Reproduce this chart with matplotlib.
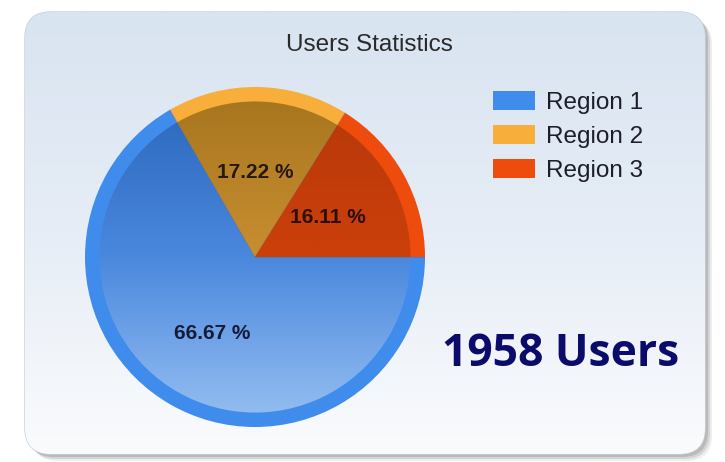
import numpy as np
import matplotlib.pyplot as plt
from matplotlib.patches import FancyBboxPatch, Wedge
from matplotlib.colors import LinearSegmentedColormap

# chart data
regions = ['Region 1', 'Region 2', 'Region 3']
shares = [66.67, 17.22, 16.11]
total_users = 1958
title = 'Users Statistics'

outer_colors = ['#3f8cec', '#f8ae3a', '#ee4c0c']
inner_stops = [['#2c68bc', '#4a88de', '#92bcf0'],
               ['#a8761f', '#c98e30', '#e8a442'],
               ['#b8380a', '#cc400a', '#dc470c']]
label_colors = ['#141c3a', '#241a10', '#2a1006']

W, H = 725, 462
fig = plt.figure(figsize=(W / 100, H / 100), dpi=100)
fig.patch.set_facecolor('white')

# background card in pixel coordinates
bg = fig.add_axes([0, 0, 1, 1])
bg.set_xlim(0, W)
bg.set_ylim(H, 0)
bg.axis('off')

for off, a in [(7, 0.15), (5, 0.25), (3, 0.35)]:
    shadow = FancyBboxPatch((25 + off, 12 + off), 680, 442,
                            boxstyle='round,pad=0,rounding_size=26',
                            fc='#8a8a8a', ec='none', alpha=a)
    bg.add_patch(shadow)
card = FancyBboxPatch((25, 12), 680, 442, boxstyle='round,pad=0,rounding_size=26',
                      fc='none', ec='#c8cfd8', lw=1)
bg.add_patch(card)
grad = np.linspace(0, 1, 256).reshape(-1, 1)
card_cmap = LinearSegmentedColormap.from_list('card', ['#d9e4f1', '#e6edf6', '#fafbfd'])
img = bg.imshow(grad, extent=(25, 705, 454, 12), cmap=card_cmap, aspect='auto', zorder=1)
img.set_clip_path(card)

bg.text(369, 45, title, ha='center', va='center', fontsize=17.5,
        family='Liberation Sans', color='#2a2a2a')
bg.text(561, 354, f'{total_users} Users', ha='center', va='center', fontsize=32,
        fontweight='bold', family=['Open Sans', 'DejaVu Sans'], color='#0b0b6b')

# pie axes: center (255, 257), radius 170 px
cx, cy, r = 255, 257, 170
ax = fig.add_axes([(cx - r) / W, (H - cy - r) / H, 2 * r / W, 2 * r / H])
wedges, _ = ax.pie(shares, colors=outer_colors, startangle=0, counterclock=False,
                   radius=1, wedgeprops=dict(linewidth=0))
ax.set_aspect('equal')
ax.axis('off')

# darker gradient inner part of each slice
for w, stops in zip(wedges, inner_stops):
    inner = Wedge((0, 0), 0.915, w.theta1, w.theta2, fc='none', ec='none')
    ax.add_patch(inner)
    cm = LinearSegmentedColormap.from_list('g', stops)
    im = ax.imshow(grad, extent=(-1, 1, -0.915, 0.915), cmap=cm, aspect='auto', zorder=2)
    im.set_clip_path(inner)
    ax.plot([0, np.cos(np.radians(w.theta1))], [0, np.sin(np.radians(w.theta1))],
            color='#5a5a5a', lw=0.6, alpha=0.35, zorder=3)

# percentage labels
label_pos = [(-0.25, -0.45), (0.0, 0.5), (0.43, 0.235)]
for (x, y), s, c in zip(label_pos, shares, label_colors):
    ax.text(x, y, f'{s:.2f} %', ha='center', va='center', fontsize=15,
            fontweight='bold', family='Liberation Sans', color=c, zorder=5)
ax.set_xlim(-1, 1)
ax.set_ylim(-1, 1)

leg = fig.legend(wedges, regions, loc='upper left', bbox_to_anchor=(493 / W, 1 - 91 / H),
                 frameon=False, handlelength=1.72, handleheight=0.8,
                 handletextpad=0.44, labelspacing=0.47, borderaxespad=0, borderpad=0,
                 prop=dict(family='Liberation Sans', size=17.5))
for t in leg.get_texts():
    t.set_color('#1e1e2a')

fig.savefig('out.png', dpi=100)
